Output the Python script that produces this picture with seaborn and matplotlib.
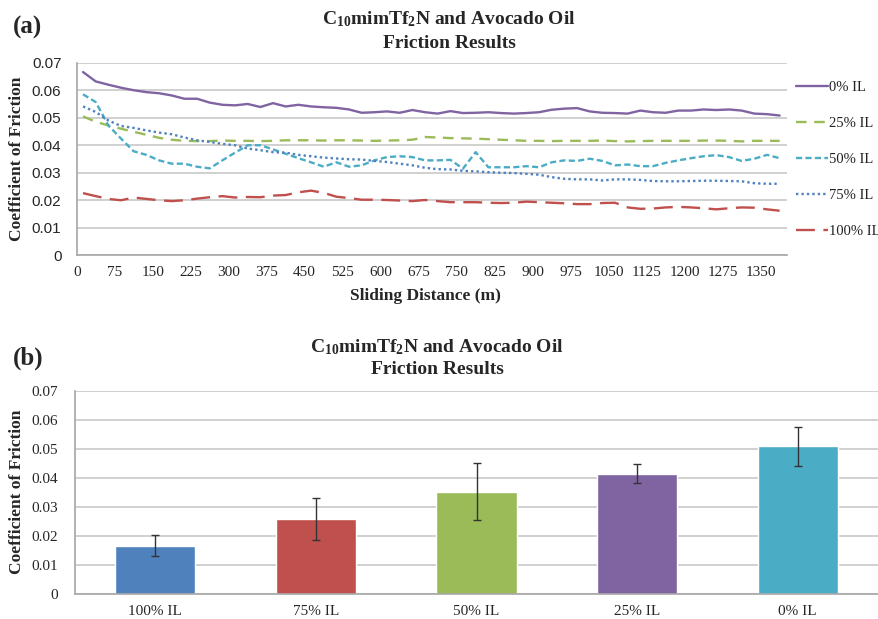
import numpy as np
import pandas as pd
import matplotlib
matplotlib.use("Agg")
import matplotlib.pyplot as plt
import seaborn as sns

# ---------------- data ----------------
distance = [12.5 + 25 * k for k in range(56)]

il_0 = [0.0666, 0.0632, 0.0620, 0.0609, 0.0600, 0.0593, 0.0589, 0.0581, 0.0569, 0.0569,
        0.0555, 0.0547, 0.0545, 0.0550, 0.0539, 0.0553, 0.0541, 0.0547, 0.0541, 0.0538,
        0.0536, 0.0530, 0.0518, 0.0520, 0.0523, 0.0518, 0.0528, 0.0520, 0.0515, 0.0524,
        0.0517, 0.0518, 0.0520, 0.0517, 0.0515, 0.0517, 0.0520, 0.0529, 0.0533, 0.0535,
        0.0523, 0.0518, 0.0517, 0.0515, 0.0526, 0.0520, 0.0518, 0.0526, 0.0526, 0.0530,
        0.0528, 0.0530, 0.0526, 0.0515, 0.0513, 0.0508]
il_25 = [0.0505, 0.0485, 0.0472, 0.0460, 0.0449, 0.0438, 0.0427, 0.0420, 0.0416, 0.0415,
         0.0415, 0.0417, 0.0416, 0.0416, 0.0415, 0.0416, 0.0418, 0.0418, 0.0418, 0.0417,
         0.0418, 0.0418, 0.0417, 0.0416, 0.0417, 0.0418, 0.0420, 0.0430, 0.0428, 0.0426,
         0.0425, 0.0424, 0.0422, 0.0420, 0.0418, 0.0416, 0.0416, 0.0415, 0.0416, 0.0416,
         0.0416, 0.0417, 0.0415, 0.0414, 0.0415, 0.0416, 0.0416, 0.0416, 0.0416, 0.0417,
         0.0417, 0.0416, 0.0414, 0.0416, 0.0416, 0.0416]
il_50 = [0.0585, 0.0557, 0.0472, 0.0424, 0.0378, 0.0365, 0.0345, 0.0333, 0.0333, 0.0322,
         0.0316, 0.0345, 0.0373, 0.0400, 0.0400, 0.0385, 0.0369, 0.0353, 0.0338, 0.0322,
         0.0338, 0.0322, 0.0327, 0.0345, 0.0357, 0.0360, 0.0357, 0.0345, 0.0345, 0.0347,
         0.0315, 0.0375, 0.0320, 0.0320, 0.0320, 0.0324, 0.0320, 0.0338, 0.0345, 0.0343,
         0.0351, 0.0343, 0.0327, 0.0330, 0.0324, 0.0324, 0.0336, 0.0345, 0.0353, 0.0360,
         0.0364, 0.0357, 0.0343, 0.0351, 0.0365, 0.0353]
il_75 = [0.0541, 0.0521, 0.0490, 0.0470, 0.0463, 0.0454, 0.0446, 0.0440, 0.0428, 0.0418,
         0.0412, 0.0405, 0.0400, 0.0388, 0.0382, 0.0375, 0.0373, 0.0365, 0.0360, 0.0355,
         0.0352, 0.0349, 0.0348, 0.0343, 0.0339, 0.0333, 0.0327, 0.0318, 0.0313, 0.0312,
         0.0307, 0.0305, 0.0302, 0.0300, 0.0299, 0.0296, 0.0293, 0.0284, 0.0278, 0.0276,
         0.0276, 0.0272, 0.0276, 0.0276, 0.0274, 0.0270, 0.0269, 0.0269, 0.0270, 0.0271,
         0.0271, 0.0270, 0.0269, 0.0262, 0.0260, 0.0260]
il_100 = [0.0226, 0.0215, 0.0205, 0.0200, 0.0210, 0.0205, 0.0200, 0.0197, 0.0200, 0.0206,
          0.0211, 0.0215, 0.0210, 0.0212, 0.0211, 0.0217, 0.0219, 0.0229, 0.0235, 0.0227,
          0.0213, 0.0208, 0.0202, 0.0202, 0.0201, 0.0199, 0.0197, 0.0201, 0.0197, 0.0193,
          0.0193, 0.0193, 0.0191, 0.0190, 0.0191, 0.0195, 0.0193, 0.0191, 0.0189, 0.0186,
          0.0186, 0.0190, 0.0191, 0.0174, 0.0169, 0.0170, 0.0174, 0.0176, 0.0174, 0.0171,
          0.0167, 0.0171, 0.0174, 0.0173, 0.0167, 0.0162]

series_labels = ["0% IL", "25% IL", "50% IL", "75% IL", "100% IL"]
line_colors = ["#8064A2", "#9BBB59", "#4BACC6", "#4F81BD", "#C0504D"]

bar_categories = ["100% IL", "75% IL", "50% IL", "25% IL", "0% IL"]
bar_values = [0.0166, 0.0258, 0.0352, 0.0414, 0.0509]
bar_errors = [0.0036, 0.0073, 0.0099, 0.0033, 0.0067]
bar_colors = ["#4F81BD", "#C0504D", "#9BBB59", "#8064A2", "#4BACC6"]

x_ticks = list(range(0, 1351, 75))
y_ticks = [0, 0.01, 0.02, 0.03, 0.04, 0.05, 0.06, 0.07]
y_tick_labels = ["0", "0.01", "0.02", "0.03", "0.04", "0.05", "0.06", "0.07"]

# ---------------- style ----------------
sns.set_style("white")
plt.rcParams["font.family"] = ["Liberation Serif", "DejaVu Serif"]
plt.rcParams["mathtext.fontset"] = "custom"
plt.rcParams["mathtext.rm"] = "Liberation Serif:bold"
plt.rcParams["mathtext.bf"] = "Liberation Serif:bold"
plt.rcParams["mathtext.it"] = "Liberation Serif:bold"

W, H = 879, 619
fig = plt.figure(figsize=(W / 100, H / 100), dpi=100)

def fx(px):
    return px / W

def fy(py):
    return 1 - py / H

grid_c = "#c8c8c8"
axis_c = "#a6a6a6"
title_fs = 14
label_fs = 12.5

# ---------------- (a) line chart ----------------
axA = fig.add_axes([fx(76.7), fy(255.3), fx(787 - 76.7), (255.3 - 62.7) / H])

long = pd.DataFrame({
    "distance": distance * 5,
    "cof": il_0 + il_25 + il_50 + il_75 + il_100,
    "series": sum([[s] * len(distance) for s in series_labels], []),
})
dashes = {"0% IL": "", "25% IL": (4.5, 3.2), "50% IL": (2.6, 1.4), "75% IL": (1, 1.3), "100% IL": (8, 3.6)}
sns.lineplot(data=long, x="distance", y="cof", hue="series", style="series",
             hue_order=series_labels, style_order=series_labels,
             palette=dict(zip(series_labels, line_colors)), dashes=dashes,
             linewidth=1.7, ax=axA, legend=True)

axA.set_xlim(0, 1402)
axA.set_ylim(0, 0.07)
axA.set_xticks(x_ticks)
axA.set_xticklabels([str(t) for t in x_ticks], fontsize=11)
axA.set_yticks(y_ticks)
axA.set_yticklabels(y_tick_labels, fontsize=11, family=["Liberation Sans", "DejaVu Sans"])
axA.grid(axis="y", color=grid_c, linewidth=1.2)
axA.set_axisbelow(True)
for s in ["top", "right"]:
    axA.spines[s].set_visible(False)
for s in ["left", "bottom"]:
    axA.spines[s].set_color(axis_c)
    axA.spines[s].set_linewidth(1.2)
axA.tick_params(axis="x", direction="out", length=4, color=axis_c, pad=4)
axA.tick_params(axis="y", direction="out", length=4, color=axis_c, pad=7)
axA.set_xlabel("")
axA.set_ylabel("")
fig.text(fx(425), fy(295.5), "Sliding Distance (m)", fontsize=label_fs, fontweight="bold",
         ha="center", va="center")
fig.text(fx(17), fy(158.5), "Coefficient of Friction", rotation=90, fontsize=label_fs,
         fontweight="bold", ha="center", va="center")

leg = axA.legend(loc="upper left", bbox_to_anchor=(1.004, 0.934), frameon=False,
                 fontsize=10.5, labelspacing=1.55, handlelength=2.2, handletextpad=0.1,
                 borderaxespad=0.0)
for t in leg.get_texts():
    t.set_color("#222222")

fig.text(fx(449), fy(19), r"C$_{10}$mimTf$_{2}$N and Avocado Oil", fontsize=title_fs,
         fontweight="bold", ha="center", va="center")
fig.text(fx(449), fy(43), "Friction Results", fontsize=title_fs, fontweight="bold",
         ha="center", va="center")
fig.text(fx(13), fy(27), "(a)", fontsize=18, fontweight="bold", ha="left", va="center")

# ---------------- (b) bar chart ----------------
axB = fig.add_axes([fx(75), fy(593.7), fx(878 - 75), (593.7 - 391) / H])
bar_df = pd.DataFrame({"cat": bar_categories, "val": bar_values})
sns.barplot(data=bar_df, x="cat", y="val", hue="cat", palette=dict(zip(bar_categories, bar_colors)),
            order=bar_categories, hue_order=bar_categories, width=0.5, saturation=1,
            legend=False, ax=axB)
axB.errorbar(np.arange(len(bar_values)), bar_values, yerr=bar_errors, fmt="none",
             ecolor="#333333", elinewidth=1.0, capsize=3, capthick=1.0)
axB.set_xlim(-0.5, 4.5)
axB.set_ylim(0, 0.07)
axB.set_yticks(y_ticks)
axB.set_yticklabels(y_tick_labels, fontsize=11)
axB.set_xticks(range(5))
axB.set_xticklabels(bar_categories, fontsize=11)
axB.set_xticks(np.arange(-0.5, 5.0, 1.0), minor=True)
axB.tick_params(axis="x", which="major", length=0, pad=8)
axB.tick_params(axis="x", which="minor", length=5, color=axis_c, direction="out")
axB.tick_params(axis="y", length=4, color=axis_c, direction="out", pad=8)
axB.grid(axis="y", color=grid_c, linewidth=1.2)
axB.set_axisbelow(True)
for s in ["top", "right"]:
    axB.spines[s].set_visible(False)
for s in ["left", "bottom"]:
    axB.spines[s].set_color(axis_c)
    axB.spines[s].set_linewidth(1.2)
axB.set_xlabel("")
axB.set_ylabel("")
fig.text(fx(17), fy(491.5), "Coefficient of Friction", rotation=90, fontsize=label_fs,
         fontweight="bold", ha="center", va="center")
fig.text(fx(437), fy(347), r"C$_{10}$mimTf$_{2}$N and Avocado Oil", fontsize=title_fs,
         fontweight="bold", ha="center", va="center")
fig.text(fx(437), fy(370), "Friction Results", fontsize=title_fs, fontweight="bold",
         ha="center", va="center")
fig.text(fx(13), fy(358), "(b)", fontsize=18, fontweight="bold", ha="left", va="center")

fig.savefig("out.png", dpi=100)
